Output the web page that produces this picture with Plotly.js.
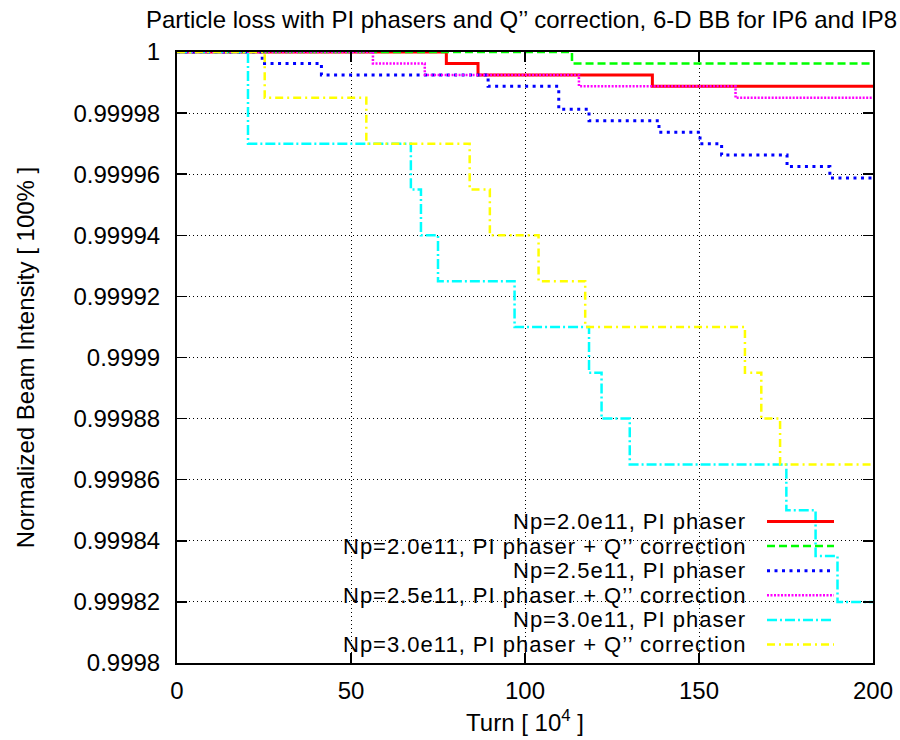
<!DOCTYPE html>
<html>
<head>
<meta charset="utf-8">
<script src="https://cdn.plot.ly/plotly-3.0.1.min.js"></script>
<style>
  html, body { margin: 0; padding: 0; background: #ffffff; }
  #chart { width: 900px; height: 740px; }
  .annotation-text { letter-spacing: 1px; }
</style>
</head>
<body>
<div id="chart"></div>
<script>
// ---- data (turn in units of 10^4, normalized beam intensity) ----
const seriesNames = [
  "Np=2.0e11, PI phaser",
  "Np=2.0e11, PI phaser + Q\u2019\u2019 correction",
  "Np=2.5e11, PI phaser",
  "Np=2.5e11, PI phaser + Q\u2019\u2019 correction",
  "Np=3.0e11, PI phaser",
  "Np=3.0e11, PI phaser + Q\u2019\u2019 correction"
];

const turn20 = [0, 77.4, 86.5, 136.6, 200];
const int20  = [1, 0.99999625, 0.9999925, 0.99998875, 0.99998875];

const turn20q = [0, 113.5, 200];
const int20q  = [1, 0.99999625, 0.99999625];

const turn25 = [0, 24.5, 41.5, 89.4, 109.7, 118.4, 138.5, 150.3, 156.5, 175.3, 187.6, 200];
const int25  = [1, 0.99999625, 0.9999925, 0.99998875, 0.99998125, 0.9999775, 0.99997375, 0.99997, 0.99996625, 0.9999625, 0.99995875, 0.99995875];

const turn25q = [0, 56.3, 71.2, 115.5, 160.5, 200];
const int25q  = [1, 0.99999625, 0.9999925, 0.99998875, 0.999985, 0.999985];

const turn30 = [0, 20.4, 67.2, 70.1, 75.0, 97.0, 118.4, 122.0, 130.1, 175.1, 183.5, 189.8, 200];
const int30  = [1, 0.99997, 0.999955, 0.99994, 0.999925, 0.99991, 0.999895, 0.99988, 0.999865, 0.99985, 0.999835, 0.99982, 0.99982];

const turn30q = [0, 25.2, 54.4, 84.1, 89.9, 103.9, 117.3, 163.2, 167.9, 173.3, 200];
const int30q  = [1, 0.999985, 0.99997, 0.999955, 0.99994, 0.999925, 0.99991, 0.999895, 0.99988, 0.999865, 0.999865];

const xTickVals = [0, 50, 100, 150, 200];
const yTickVals = [0.9998, 0.99982, 0.99984, 0.99986, 0.99988, 0.9999, 0.99992, 0.99994, 0.99996, 0.99998, 1];
const yTickText = ["0.9998", "0.99982", "0.99984", "0.99986", "0.99988", "0.9999", "0.99992", "0.99994", "0.99996", "0.99998", "1"];

// ---- styles ----
const styles = [
  { color: "#ff0000", width: 3,   dash: "solid" },
  { color: "#00ff00", width: 2.5, dash: "8px,4px" },
  { color: "#0000ff", width: 3,   dash: "3px,4.5px" },
  { color: "#ff00ff", width: 2.5, dash: "2px,1.5px" },
  { color: "#00ffff", width: 2.5, dash: "10px,3px,2px,3px" },
  { color: "#ffff00", width: 2.5, dash: "8px,4px,2px,4px" }
];

const xs = [turn20, turn20q, turn25, turn25q, turn30, turn30q];
const ys = [int20, int20q, int25, int25q, int30, int30q];

const FONT = "'Liberation Sans', Arial, Helvetica, sans-serif";
const FS = 24;
const KEYFS = 22;

const traces = xs.map((x, i) => ({
  type: "scatter",
  mode: "lines",
  x: x,
  y: ys[i],
  name: seriesNames[i],
  line: { color: styles[i].color, width: styles[i].width, dash: styles[i].dash, shape: "hv" },
  showlegend: false,
  hoverinfo: "x+y+name"
}));

// ---- custom gnuplot-style key (text right-aligned, sample line to its right) ----
const plotL = 177, plotR = 873, plotT = 52, plotB = 663;
const pw = plotR - plotL, ph = plotB - plotT;
const px2x = p => (p - plotL) / pw;
const px2y = p => (plotB - p) / ph;

const annotations = [];
const shapes = [];
// opaque key background (above grid, below data)
shapes.push({
  type: "rect", xref: "paper", yref: "paper",
  x0: px2x(330), x1: px2x(845), y0: px2y(656), y1: px2y(510),
  fillcolor: "#ffffff", line: { width: 0 }, layer: "between"
});
seriesNames.forEach((nm, i) => {
  const yc = 521.5 + 24.6 * i;
  annotations.push({
    xref: "paper", yref: "paper", x: px2x(747), y: px2y(yc),
    xanchor: "right", yanchor: "middle", showarrow: false, borderpad: 0,
    text: nm, font: { family: FONT, size: KEYFS, color: "#000000" }
  });
  shapes.push({
    type: "line", xref: "paper", yref: "paper",
    x0: px2x(767), x1: px2x(834), y0: px2y(yc), y1: px2y(yc),
    line: { color: styles[i].color, width: styles[i].width, dash: styles[i].dash },
    layer: "above"
  });
});

const layout = {
  width: 900, height: 740,
  margin: { l: plotL, r: 900 - plotR, t: plotT, b: 740 - plotB, pad: 0 },
  paper_bgcolor: "#ffffff", plot_bgcolor: "#ffffff",
  font: { family: FONT, size: FS, color: "#000000" },
  title: {
    text: "Particle loss with PI phasers and Q\u2019\u2019 correction, 6-D BB for IP6 and IP8",
    font: { family: FONT, size: FS, color: "#000000" },
    xref: "paper", x: 0.495, xanchor: "center",
    yref: "container", y: 1 - 20 / 740, yanchor: "middle"
  },
  xaxis: {
    range: [0, 200], tickvals: xTickVals, ticktext: xTickVals.map(String),
    showline: true, linecolor: "#000000", linewidth: 2, mirror: "allticks",
    ticks: "inside", ticklen: 10, tickwidth: 1.5, tickcolor: "#000000",
    ticklabelstandoff: 5,
    showgrid: true, gridcolor: "#000000", gridwidth: 1, griddash: "1px,3px",
    zeroline: false,
    tickfont: { family: FONT, size: FS, color: "#000000" },
    title: { text: "Turn [ 10<sup>4</sup> ]", font: { family: FONT, size: FS, color: "#000000" }, standoff: 11 }
  },
  yaxis: {
    range: [0.9998, 1], tickvals: yTickVals, ticktext: yTickText,
    showline: true, linecolor: "#000000", linewidth: 2, mirror: "allticks",
    ticks: "inside", ticklen: 10, tickwidth: 1.5, tickcolor: "#000000",
    ticklabelstandoff: 10,
    showgrid: true, gridcolor: "#000000", gridwidth: 1, griddash: "1px,3px",
    zeroline: false,
    tickfont: { family: FONT, size: FS, color: "#000000" },
    title: { text: "Normalized Beam Intensity [ 100% ]", font: { family: FONT, size: FS, color: "#000000" }, standoff: 32 }
  },
  showlegend: false,
  annotations: annotations,
  shapes: shapes
};

Plotly.newPlot("chart", traces, layout, { displayModeBar: false, staticPlot: true });
</script>
</body>
</html>
